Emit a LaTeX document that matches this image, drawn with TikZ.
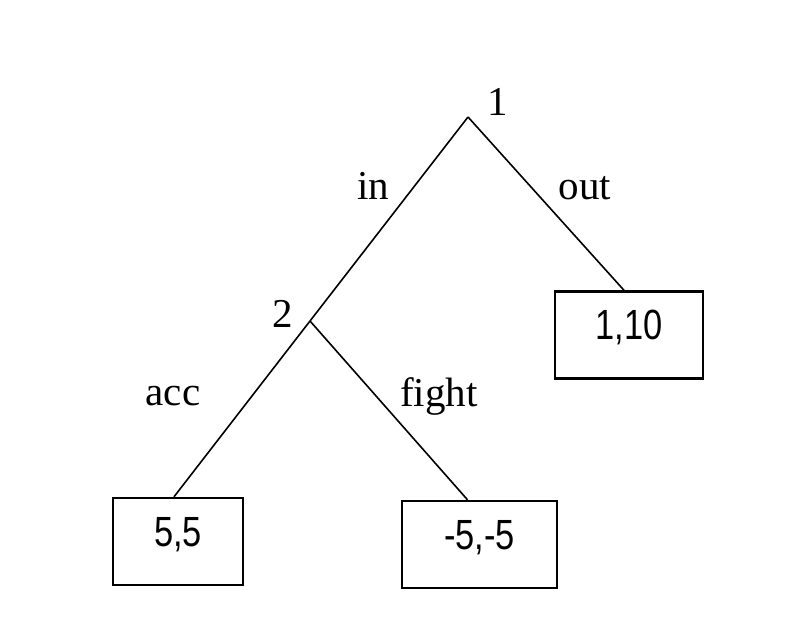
\documentclass[tikz,border=0pt]{standalone}
\usepackage{fontspec}
\usepackage{graphicx}
\setmainfont{Liberation Serif}
\newfontfamily\payofffont{Liberation Sans}
\newcommand{\payofftext}[1]{\scalebox{0.84}[1.03]{#1}}
\begin{document}
\begin{tikzpicture}[x=1pt,y=-1pt,
  edge/.style={line width=1.6pt,black},
  lbl/.style={inner sep=0pt,anchor=base,font=\fontsize{41}{48}\selectfont},
  payoff/.style={draw,line width=2.4pt,inner sep=0pt,minimum height=87pt,
    text height=9pt,text depth=0pt,
    font=\fontsize{41}{48}\payofffont}]
\useasboundingbox (0,0) rectangle (804,618);
\fill[white] (0,0) rectangle (804,618);
% decision nodes
\coordinate (n1) at (468,117);
\coordinate (n2) at (310,321);
\node[lbl] (l1) at (498,115) {1};
\node[lbl] (l2) at (283,327) {2};
% terminal boxes
\node[payoff,minimum width=148pt] (t110) at (629,335) {\payofftext{1,10}};
\node[payoff,minimum width=130pt] (t55) at (178,541.5) {\payofftext{5,5}};
\node[payoff,minimum width=155pt] (tm5) at (479.5,544.5) {\payofftext{-5,-5}};
% edges
\draw[edge] (n1) -- (n2);
\draw[edge] (n1) -- ([xshift=-5pt]t110.north);
\draw[edge] (n2) -- ([xshift=-4pt]t55.north);
\draw[edge] (n2) -- ([xshift=-12pt]tm5.north);
% action labels
\node[lbl] (ain) at (373,199) {in};
\node[lbl] (aout) at (585,199) {out};
\node[lbl] (aacc) at (173,405) {acc};
\node[lbl] (afight) at (439,406) {fight};
\end{tikzpicture}
\end{document}
